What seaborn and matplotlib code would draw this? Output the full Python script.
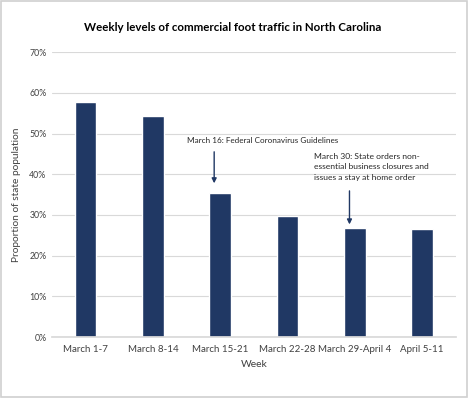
import matplotlib.pyplot as plt
import matplotlib.ticker as mtick
import pandas as pd
import seaborn as sns

# Data
weeks = ['March 1-7', 'March 8-14', 'March 15-21', 'March 22-28',
         'March 29-April 4', 'April 5-11']
share = [57.8, 54.4, 35.4, 29.7, 26.8, 26.6]

note_federal = 'March 16: Federal Coronavirus Guidelines'
note_state = ('March 30: State orders non-\n'
              'essential business closures and\n'
              'issues a stay at home order')

df = pd.DataFrame({'week': weeks, 'share': share})

sns.set_theme(style='white')
plt.rcParams['font.family'] = ['Lato', 'DejaVu Sans']

fig = plt.figure(figsize=(4.68, 3.98), dpi=100)
ax = fig.add_axes([0.111, 0.153, 0.863, 0.716])

sns.barplot(data=df, x='week', y='share', color='#203864', width=0.32,
            saturation=1, ax=ax)

ax.set_ylim(0, 70)
ax.set_yticks(range(0, 71, 10))
ax.yaxis.set_major_formatter(mtick.PercentFormatter(decimals=0))
ax.grid(axis='y', color='#d9d9d9', linewidth=0.8)
ax.set_axisbelow(True)
for s in ['top', 'right', 'left']:
    ax.spines[s].set_visible(False)
ax.spines['bottom'].set_color('#d9d9d9')
ax.tick_params(axis='both', length=0, labelsize=6.3, colors='#404040', pad=4)
ax.tick_params(axis='x', labelsize=7, pad=6)

ax.set_xlabel('Week', fontsize=7.5, color='#404040', labelpad=4)
ax.set_ylabel('Proportion of state population', fontsize=7.3,
              color='#404040', labelpad=6)

fig.text(0.497, 0.931, 'Weekly levels of commercial foot traffic in North Carolina',
         ha='center', va='center', fontsize=8.3, fontweight='bold', color='black')

# annotations with arrows pointing at the bars
arrow = dict(arrowstyle='-|>', color='#203864', lw=1.0, mutation_scale=7)
ax.annotate('', xy=(1.91, 37.1), xytext=(1.91, 46.2), arrowprops=arrow)
ax.text(1.5, 48.2, note_federal, fontsize=5.9, color='#262626',
        ha='left', va='center')
ax.annotate('', xy=(3.92, 27.0), xytext=(3.92, 36.6), arrowprops=arrow)
ax.text(3.4, 45.3, note_state, fontsize=6.1, color='#262626',
        ha='left', va='top', linespacing=1.6)

fig.patches.append(plt.Rectangle((0.002, 0.002), 0.996, 0.996, fill=False,
                                 edgecolor='#d0d0d0', linewidth=1.2,
                                 transform=fig.transFigure))

fig.savefig('out.png', dpi=100)
